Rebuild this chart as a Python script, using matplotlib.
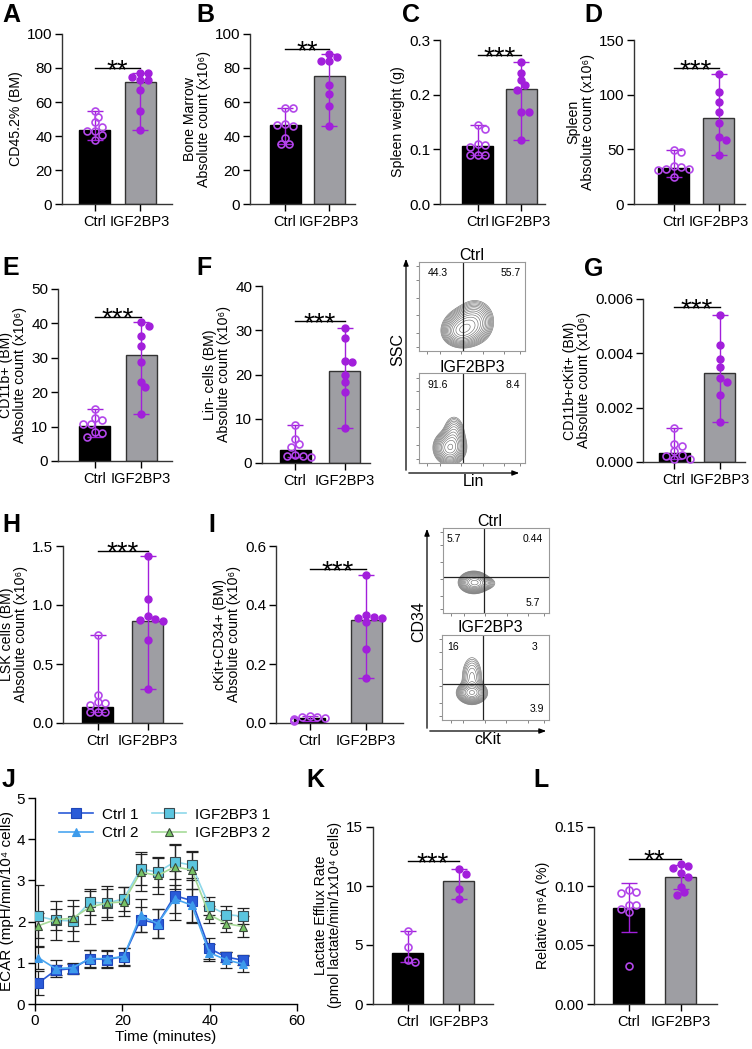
import numpy as np
import matplotlib
matplotlib.use("Agg")
import matplotlib.pyplot as plt

plt.rcParams['font.family'] = ['Liberation Sans', 'DejaVu Sans']
plt.rcParams['axes.linewidth'] = 1.0
plt.rcParams['xtick.major.width'] = 1.0
plt.rcParams['ytick.major.width'] = 1.0

W, H = 752, 1049

groups = ['Ctrl', 'IGF2BP3']

# bar panels: individual mice + bar heights
a_ctrl = [54.5, 51, 48, 45.5, 43, 43, 40.5, 37.5]
a_igf = [77, 77, 74.5, 73, 73, 67, 54.5, 43.5]
a_mean = [43.8, 71.5]

b_ctrl = [56.3, 56.3, 47, 46, 46.7, 38.6, 35.3, 35.3]
b_igf = [88, 86.3, 84.1, 84.1, 70, 64.7, 57.6, 45.9]
b_mean = [46.5, 75.5]

c_ctrl = [0.145, 0.138, 0.11, 0.108, 0.105, 0.09, 0.09, 0.09]
c_igf = [0.259, 0.24, 0.226, 0.217, 0.209, 0.169, 0.169, 0.117]
c_mean = [0.107, 0.21]

d_ctrl = [49.4, 47.3, 34.8, 34.1, 32, 31.7, 31.1, 24.4]
d_igf = [118.9, 102.7, 93.6, 84.5, 74.4, 61.6, 58.5, 44.8]
d_mean = [33, 79]

e_ctrl = [15.1, 12.4, 11.9, 10.7, 10.7, 8.3, 8.0, 7.1]
e_igf = [40.3, 39.2, 36.4, 33.4, 28.7, 22.9, 21.4, 13.7]
e_mean = [10.3, 30.9]

f_ctrl = [8.6, 5.5, 4.2, 3.6, 1.8, 1.5, 1.5, 1.3]
f_igf = [30.5, 28.2, 23.1, 22.8, 20.0, 18.2, 16.0, 8.0]
f_mean = [2.9, 20.7]

g_ctrl = [0.00126, 0.00066, 0.00058, 0.00039, 0.00027, 0.00023, 0.0001, 0.0001]
g_igf = [0.0054, 0.00431, 0.0038, 0.00348, 0.00308, 0.00296, 0.00248, 0.00148]
g_mean = [0.00033, 0.00326]

h_ctrl = [0.747, 0.24, 0.18, 0.17, 0.15, 0.09, 0.09, 0.09]
h_igf = [1.416, 1.05, 0.91, 0.882, 0.874, 0.865, 0.705, 0.284]
h_mean = [0.135, 0.865]

i_ctrl = [0.025, 0.022, 0.02, 0.016, 0.013, 0.011, 0.01, 0.008]
i_igf = [0.502, 0.366, 0.358, 0.356, 0.356, 0.342, 0.25, 0.154]
i_mean = [0.017, 0.35]

k_ctrl = [6.22, 4.81, 3.74, 3.55]
k_igf = [11.4, 11.0, 9.74, 8.86]
k_mean = [4.3, 10.4]

l_ctrl = [0.0965, 0.0951, 0.0937, 0.0839, 0.0839, 0.0805, 0.0777, 0.0324]
l_igf = [0.1185, 0.1171, 0.1154, 0.1114, 0.1078, 0.0988, 0.0946, 0.0923]
l_mean = [0.0815, 0.1075]

# significance
sig_a, sig_b, sig_c, sig_d = ('**', 80), ('**', 91), ('***', 0.272), ('***', 124)
sig_e, sig_f, sig_g, sig_h = ('***', 42), ('***', 32), ('***', 0.0057), ('***', 1.458)
sig_i, sig_k, sig_l = ('***', 0.522), ('***', 12.1), ('**', 0.123)

# ECAR time course
j_time = [0.8, 4.7, 8.6, 12.5, 16.4, 20.3, 24.2, 28.1, 32.0, 35.9, 39.9, 43.8, 47.7]
j_ctrl1 = [0.51, 0.82, 0.86, 1.10, 1.08, 1.15, 2.05, 1.95, 2.63, 2.51, 1.35, 1.14, 1.06]
j_ctrl1_sd = [0.30, 0.12, 0.12, 0.22, 0.20, 0.20, 0.30, 0.35, 0.60, 0.55, 0.25, 0.12, 0.12]
j_ctrl2 = [1.12, 0.86, 0.88, 1.10, 1.10, 1.15, 2.15, 1.95, 2.55, 2.40, 1.25, 1.07, 0.97]
j_ctrl2_sd = [0.28, 0.20, 0.12, 0.20, 0.20, 0.22, 0.40, 0.35, 0.35, 0.40, 0.20, 0.20, 0.20]
j_igf1 = [2.13, 2.03, 2.02, 2.47, 2.45, 2.55, 3.28, 3.20, 3.45, 3.37, 2.38, 2.17, 2.13]
j_igf1_sd = [0.75, 0.48, 0.50, 0.32, 0.42, 0.30, 0.40, 0.35, 0.42, 0.35, 0.22, 0.20, 0.20]
j_igf2 = [1.90, 2.05, 2.08, 2.35, 2.45, 2.48, 3.20, 3.12, 3.33, 3.25, 2.17, 1.95, 1.88]
j_igf2_sd = [0.30, 0.25, 0.30, 0.40, 0.35, 0.35, 0.45, 0.45, 0.55, 0.45, 0.20, 0.20, 0.25]

# flow cytometry gate percentages
f_flow_ctrl = ['44.3', '55.7']
f_flow_igf = ['91.6', '8.4']
i_flow_ctrl = ['5.7', '0.44', '5.7']
i_flow_igf = ['16', '3', '3.9']

PURPLE = '#A21FDB'
PURPLE_L = '#B347EA'
GREY = '#9E9EA3'

fig = plt.figure(figsize=(W / 100, H / 100), dpi=100)


def rect(L, R, top, bot):
    return [L / W, 1 - bot / H, (R - L) / W, (bot - top) / H]


def swarm(vals, xs, ys, d):
    placed, offs = [], []
    for v in vals:
        y = v * ys
        for k in [0, 1, -1, 2, -2, 3, -3, 4, -4]:
            x = k * d * 0.6
            if all((x - px) ** 2 + (y - py) ** 2 >= (0.95 * d) ** 2 for px, py in placed):
                break
        placed.append((x, y))
        offs.append(x / xs)
    return offs


def bar_panel(lay, ctrl, igf, means, sig, ymax, yticks, ylabel, fmt=None, sd=False):
    L, R, c0, c1, top, bot = lay
    u = c1 - c0
    ax = fig.add_axes(rect(L, R, top, bot))
    ax.set_xlim((L - c0) / u, (R - c0) / u)
    ax.set_ylim(0, ymax)
    w = 31 / u
    ax.bar([0, 1], means, width=w, color=['black', GREY],
           edgecolor=['black', '#333333'], linewidth=1.0, zorder=1)
    ys = (bot - top) / ymax
    for i, pts in enumerate([ctrl, igf]):
        pts = np.array(pts)
        m = means[i]
        if sd:
            s = pts.std(ddof=1)
            err = [[s], [s]]
        else:
            err = [[max(m - pts.min(), 0)], [max(pts.max() - m, 0)]]
        ax.errorbar([i], [m], yerr=err, color=PURPLE, lw=1.0, capsize=5.5,
                    capthick=1.0, zorder=2)
        offs = swarm(pts, u, ys, 6.5)
        if i == 0:
            ax.plot(i + np.array(offs), pts, 'o', ms=5, mfc='none', mec=PURPLE_L,
                    mew=1.2, zorder=3, clip_on=False)
        else:
            ax.plot(i + np.array(offs), pts, 'o', ms=5, mfc=PURPLE, mec=PURPLE,
                    zorder=3, clip_on=False)
    ax.plot([0, 1], [sig[1], sig[1]], color='black', lw=1.0, clip_on=False)
    ax.annotate(sig[0], xy=(0.5, sig[1]), xytext=(0, -7), textcoords='offset points',
                ha='center', va='baseline', fontsize=20,
                annotation_clip=False)
    ax.set_yticks(yticks)
    if fmt:
        ax.set_yticklabels([fmt % t for t in yticks])
    ax.set_xticks([0, 1])
    ax.set_xticklabels(groups)
    ax.tick_params(axis='y', labelsize=11, length=5, pad=2)
    ax.tick_params(axis='x', labelsize=10.5, length=5, pad=3)
    ax.set_ylabel(ylabel, fontsize=10.2, labelpad=3, linespacing=1.0)
    for s in ['top', 'right']:
        ax.spines[s].set_visible(False)
    for s in ['left', 'bottom']:
        ax.spines[s].set_color('#333333')
    return ax


X6 = ' (x10\u2076)'
bar_panel((62, 172, 94.5, 140, 34, 204), a_ctrl, a_igf, a_mean, sig_a, 100,
          [0, 20, 40, 60, 80, 100], 'CD45.2% (BM)')
bar_panel((250, 355, 285, 329, 34, 204), b_ctrl, b_igf, b_mean, sig_b, 100,
          [0, 20, 40, 60, 80, 100], 'Bone Marrow\nAbsolute count' + X6)
bar_panel((440, 545, 477.5, 521, 40, 204), c_ctrl, c_igf, c_mean, sig_c, 0.3,
          [0, 0.1, 0.2, 0.3], 'Spleen weight (g)', '%.1f')
bar_panel((634, 745, 673.5, 718.5, 40, 204), d_ctrl, d_igf, d_mean, sig_d, 150,
          [0, 50, 100, 150], 'Spleen\nAbsolute count' + X6)
bar_panel((58, 172, 94.5, 141, 289, 461), e_ctrl, e_igf, e_mean, sig_e, 50,
          [0, 10, 20, 30, 40, 50], 'CD11b+ (BM)\nAbsolute count' + X6)
bar_panel((262, 370, 295, 344.5, 286, 463), f_ctrl, f_igf, f_mean, sig_f, 40,
          [0, 10, 20, 30, 40], 'Lin- cells (BM)\nAbsolute count' + X6)
bar_panel((643, 745, 674, 719.5, 299, 462), g_ctrl, g_igf, g_mean, sig_g, 0.006,
          [0, 0.002, 0.004, 0.006], 'CD11b+cKit+ (BM)\nAbsolute count' + X6, '%.3f')
bar_panel((63, 182, 97.5, 147.5, 546, 723), h_ctrl, h_igf, h_mean, sig_h, 1.5,
          [0, 0.5, 1.0, 1.5], 'LSK cells (BM)\nAbsolute count' + X6, '%.1f')
bar_panel((276, 403, 309.5, 366, 546, 723), i_ctrl, i_igf, i_mean, sig_i, 0.6,
          [0, 0.2, 0.4, 0.6], 'cKit+CD34+ (BM)\nAbsolute count' + X6, '%.1f')
bar_panel((373, 493, 407.5, 458.5, 827, 1004), k_ctrl, k_igf, k_mean, sig_k, 15,
          [0, 5, 10, 15], 'Lactate Efflux Rate\n(pmol lactate/min/1x10\u2074 cells)')
bar_panel((594, 717, 628.5, 680.5, 827, 1004), l_ctrl, l_igf, l_mean, sig_l, 0.15,
          [0, 0.05, 0.10, 0.15], 'Relative m\u2076A (%)', '%.2f', sd=True)

# ECAR panel
axj = fig.add_axes(rect(35, 297, 798, 1004))
series = [
    ('Ctrl 1', j_ctrl1, j_ctrl1_sd, 's', '#2A5BD8', '#1E46B8', '#2A5BD8'),
    ('Ctrl 2', j_ctrl2, j_ctrl2_sd, '^', '#3D9BEB', '#3D9BEB', '#4AA6F0'),
    ('IGF2BP3 1', j_igf1, j_igf1_sd, 's', '#5BC5DF', '#3A4A50', '#8ED8EA'),
    ('IGF2BP3 2', j_igf2, j_igf2_sd, '^', '#78C466', '#3A4A3A', '#A6DA98'),
]
handles = []
for name, y, sd, mk, fc, ec, lc in series:
    axj.errorbar(j_time, y, yerr=sd, fmt='none', ecolor='#222222', elinewidth=0.9,
                 capsize=4, capthick=0.9, zorder=1)
for name, y, sd, mk, fc, ec, lc in series:
    h, = axj.plot(j_time, y, '-', marker=mk, color=lc, mfc=fc, mec=ec,
                  ms=6.5 if mk == 's' else 6, mew=0.8, lw=1.2, label=name, zorder=3)
    handles.append(h)
axj.set_xlim(0, 60)
axj.set_ylim(0, 5)
axj.set_xticks([0, 20, 40, 60])
axj.set_yticks([0, 1, 2, 3, 4, 5])
axj.tick_params(labelsize=11, length=5, pad=2)
axj.set_xlabel('Time (minutes)', fontsize=11, labelpad=2)
axj.set_ylabel('ECAR (mpH/min/10\u2074 cells)', fontsize=11, labelpad=2)
for s in ['top', 'right']:
    axj.spines[s].set_visible(False)
axj.legend(handles=handles, ncol=2, frameon=False, fontsize=11, loc='upper left',
           bbox_to_anchor=(0.04, 1.02), handlelength=2.2, columnspacing=0.9,
           handletextpad=0.6, labelspacing=0.3)

# flow cytometry contour plots
gx, gy = np.meshgrid(np.linspace(0, 1, 200), np.linspace(0, 1, 200))
f_top_blobs = [(0.45, 0.27, 0.09, 0.09, 1.0), (0.38, 0.21, 0.07, 0.07, 0.6), (0.53, 0.36, 0.08, 0.10, 0.4)]
f_bot_blobs = [(0.29, 0.17, 0.065, 0.08, 1.0), (0.33, 0.32, 0.05, 0.10, 0.3)]
i_top_blobs = [(0.29, 0.36, 0.06, 0.055, 1.0), (0.36, 0.35, 0.07, 0.04, 0.25)]
i_bot_blobs = [(0.28, 0.32, 0.06, 0.055, 1.0), (0.28, 0.50, 0.05, 0.13, 0.25)]


def flow_box(L, R, top, bot, blobs, gate_x, gate_y=None):
    ax = fig.add_axes(rect(L, R, top, bot))
    z = np.zeros_like(gx)
    for cx, cy, sx, sy, wgt in blobs:
        z += wgt * np.exp(-((gx - cx) ** 2 / (2 * sx ** 2) + (gy - cy) ** 2 / (2 * sy ** 2)))
    ax.contour(gx, gy, z, levels=np.geomspace(0.05, 1.3, 14), colors='#707070', linewidths=0.45)
    ax.axvline(gate_x, color='#222222', lw=0.9)
    if gate_y is not None:
        ax.axhline(gate_y, color='#222222', lw=0.9)
    ax.set_xlim(0, 1)
    ax.set_ylim(0, 1)
    ax.set_xticks([0.08, 0.2, 0.4, 0.6, 0.8, 0.95])
    ax.set_yticks([0.05, 0.2, 0.4, 0.6, 0.8, 0.95])
    ax.set_xticklabels([])
    ax.set_yticklabels([])
    ax.tick_params(length=2, width=0.5, color='#555555')
    for s in ax.spines.values():
        s.set_color('#999999')
        s.set_linewidth(0.8)
    return ax


flow_box(419, 525, 262, 351, f_top_blobs, 0.415)
flow_box(419, 525, 373, 463, f_bot_blobs, 0.415)
flow_box(443, 549, 528, 613, i_top_blobs, 0.39, 0.42)
flow_box(442, 549, 635, 720, i_bot_blobs, 0.38, 0.42)

# overlay for letters, arrows and flow labels
ov = fig.add_axes([0, 0, 1, 1])
ov.set_xlim(0, W)
ov.set_ylim(H, 0)
ov.axis('off')
ov.patch.set_alpha(0)

arrow = dict(arrowstyle='-|>,head_length=0.4,head_width=0.15', color='black', lw=0.9)
ov.annotate('', xy=(406, 256), xytext=(406, 473), arrowprops=arrow)
ov.annotate('', xy=(522, 473), xytext=(406, 473), arrowprops=arrow)
ov.annotate('', xy=(427, 526), xytext=(427, 731), arrowprops=arrow)
ov.annotate('', xy=(549, 731), xytext=(427, 731), arrowprops=arrow)

ov.text(472, 255, 'Ctrl', ha='center', va='center', fontsize=11.5)
ov.text(472, 367, 'IGF2BP3', ha='center', va='center', fontsize=11.5)
ov.text(398, 350, 'SSC', ha='center', va='center', fontsize=11.5, rotation=90)
ov.text(473, 481, 'Lin', ha='center', va='center', fontsize=11.5)
ov.text(438, 273, f_flow_ctrl[0], ha='center', va='center', fontsize=7.5)
ov.text(511, 273, f_flow_ctrl[1], ha='center', va='center', fontsize=7.5)
ov.text(438, 385, f_flow_igf[0], ha='center', va='center', fontsize=7.5)
ov.text(513, 385, f_flow_igf[1], ha='center', va='center', fontsize=7.5)

ov.text(490, 521, 'Ctrl', ha='center', va='center', fontsize=11.5)
ov.text(490, 628, 'IGF2BP3', ha='center', va='center', fontsize=11.5)
ov.text(419, 622, 'CD34', ha='center', va='center', fontsize=11.5, rotation=90)
ov.text(488, 740, 'cKit', ha='center', va='center', fontsize=11.5)
ov.text(454, 539, i_flow_ctrl[0], ha='center', va='center', fontsize=7.5)
ov.text(533, 539, i_flow_ctrl[1], ha='center', va='center', fontsize=7.5)
ov.text(533, 603, i_flow_ctrl[2], ha='center', va='center', fontsize=7.5)
ov.text(453, 647, i_flow_igf[0], ha='center', va='center', fontsize=7.5)
ov.text(535, 647, i_flow_igf[1], ha='center', va='center', fontsize=7.5)
ov.text(537, 709, i_flow_igf[2], ha='center', va='center', fontsize=7.5)

letters = [('A', 2, 3), ('B', 196, 3), ('C', 402, 3), ('D', 584, 3),
           ('E', 2, 256), ('F', 196, 256), ('G', 584, 257),
           ('H', 2, 513), ('I', 208, 513), ('J', 2, 768), ('K', 306, 768), ('L', 533, 768)]
for t, x, y in letters:
    ov.text(x, y, t, ha='left', va='top', fontsize=18, fontweight='bold')

fig.savefig('out.png', dpi=100)
